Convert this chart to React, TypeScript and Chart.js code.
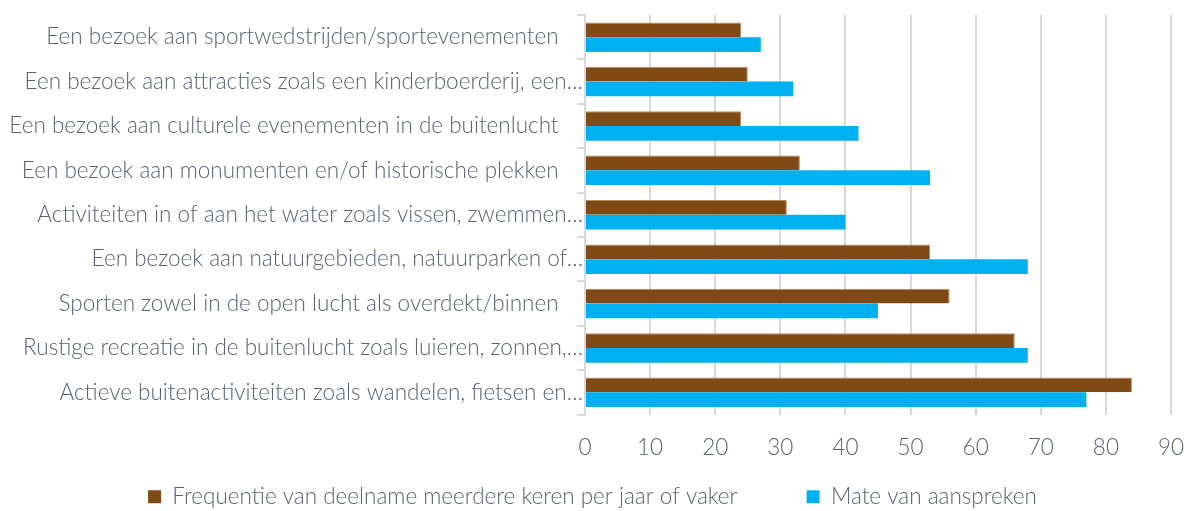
import React, { useEffect, useRef } from "react";
import { Chart, registerables } from "chart.js";

Chart.register(...registerables);

const categories = [
  "Een bezoek aan sportwedstrijden/sportevenementen",
  "Een bezoek aan attracties zoals een kinderboerderij, een…",
  "Een bezoek aan culturele evenementen in de buitenlucht",
  "Een bezoek aan monumenten en/of historische plekken",
  "Activiteiten in of aan het water zoals vissen, zwemmen…",
  "Een bezoek aan natuurgebieden, natuurparken of…",
  "Sporten zowel in de open lucht als overdekt/binnen",
  "Rustige recreatie in de buitenlucht zoals luieren, zonnen,…",
  "Actieve buitenactiviteiten zoals wandelen, fietsen en…",
];

const seriesNames = [
  "Frequentie van deelname meerdere keren per jaar of vaker",
  "Mate van aanspreken",
];

const frequentie = [24, 25, 24, 33, 31, 53, 56, 66, 84];
const aanspreken = [27, 32, 42, 53, 40, 68, 45, 68, 77];

const xMin = 0;
const xMax = 90;
const xStep = 10;

const TEXT = "#5a6272";
const GRID = "#d9d9d9";
const FONT = "Lato, 'Open Sans', sans-serif";
const FS = 22.5;

export default function App() {
  const ref = useRef<HTMLCanvasElement | null>(null);

  useEffect(() => {
    document.body.style.margin = "0";
    const canvas = ref.current;
    if (!canvas) return;
    const chart = new Chart(canvas, {
      type: "bar",
      data: {
        labels: categories,
        datasets: [
          {
            label: seriesNames[0],
            data: frequentie,
            backgroundColor: "#7f4a15",
            borderColor: "#b98a5e",
            borderWidth: { top: 1, right: 1, bottom: 0, left: 0 },
            categoryPercentage: 0.665,
            barPercentage: 1,
          },
          {
            label: seriesNames[1],
            data: aanspreken,
            backgroundColor: "#00b0f0",
            borderWidth: 0,
            categoryPercentage: 0.665,
            barPercentage: 1,
          },
        ],
      },
      options: {
        indexAxis: "y",
        animation: false,
        responsive: true,
        maintainAspectRatio: false,
        layout: { padding: { left: 0, top: 15, right: 0, bottom: -7 } },
        plugins: {
          tooltip: { enabled: false },
          legend: {
            position: "bottom",
            labels: {
              boxWidth: 13,
              boxHeight: 13,
              padding: 8,
              color: TEXT,
              font: { family: FONT, size: FS, weight: "300" },
              generateLabels: (c: any) => {
                const items = Chart.defaults.plugins.legend.labels.generateLabels(c);
                return items.map((it: any, i: number) => ({
                  ...it,
                  text: i === 0 ? it.text + "          " : it.text,
                  lineWidth: 0,
                }));
              },
            },
          },
        },
        scales: {
          x: {
            min: xMin,
            max: xMax,
            ticks: {
              stepSize: xStep,
              color: TEXT,
              font: { family: FONT, size: FS, weight: "300" },
              padding: 20,
            },
            grid: { color: GRID, lineWidth: 2, drawTicks: false },
            border: { display: false },
            afterFit: (s: any) => {
              s.height = 63;
              s.paddingRight = 14;
            },
          },
          y: {
            ticks: {
              color: TEXT,
              font: { family: FONT, size: FS, weight: "300" },
              padding: -6,
              autoSkip: false,
              callback: (_v: any, i: number) => {
                const l = categories[i];
                return l.endsWith("…") ? l : l + "    ";
              },
            },
            grid: {
              drawOnChartArea: false,
              drawTicks: true,
              tickLength: 8,
              color: GRID,
              lineWidth: 2,
            },
            border: { display: true, color: GRID, width: 2 },
            afterFit: (s: any) => {
              s.width = 585;
            },
          },
        },
      },
    });
    return () => chart.destroy();
  }, []);

  return (
    <div style={{ width: 1185, height: 511, position: "relative" }}>
      <canvas ref={ref} />
    </div>
  );
}
